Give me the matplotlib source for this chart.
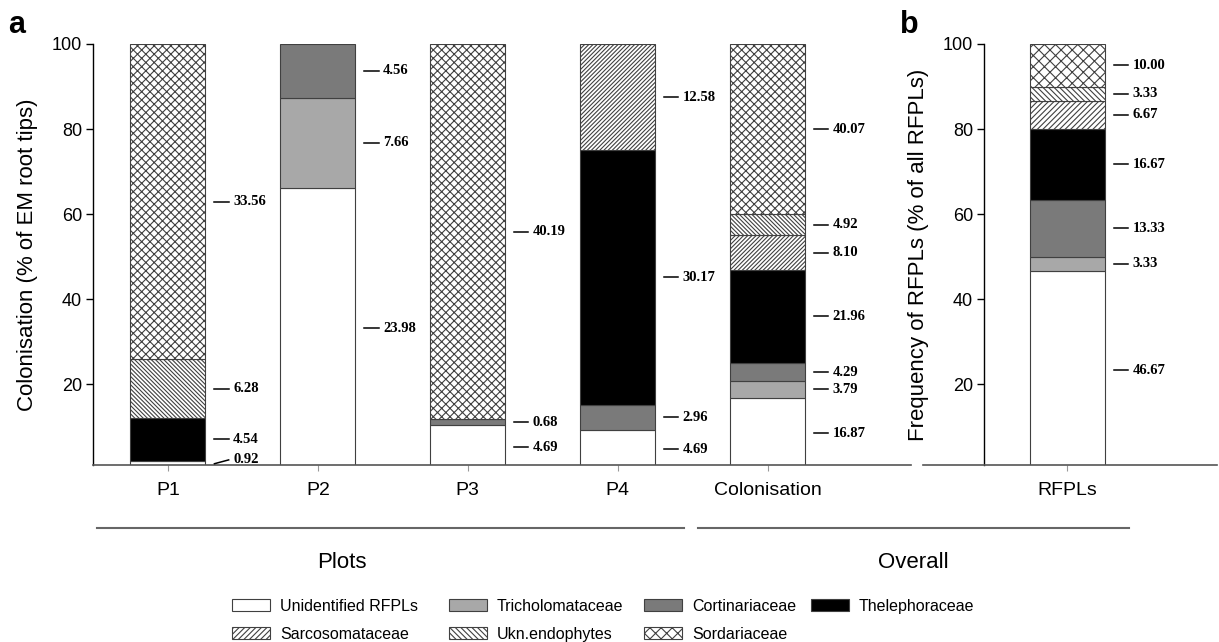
import numpy as np
import matplotlib
matplotlib.use("Agg")
import matplotlib.pyplot as plt
from matplotlib.lines import Line2D
from matplotlib.patches import Rectangle

plt.rcParams['font.family'] = ['Liberation Sans', 'DejaVu Sans']
plt.rcParams['hatch.linewidth'] = 0.8

# categories
plots = ['P1', 'P2', 'P3', 'P4', 'Colonisation']
families = ['Unidentified RFPLs', 'Tricholomataceae', 'Cortinariaceae', 'Thelephoraceae',
            'Sarcosomataceae', 'Ukn.endophytes', 'Sordariaceae']

# values printed next to the bars (panel a), one list per family across plots
unidentified = [0.92, 23.98, 4.69, 4.69, 16.87]
tricholomataceae = [0, 7.66, 0, 0, 3.79]
cortinariaceae = [0, 4.56, 0.68, 2.96, 4.29]
thelephoraceae = [4.54, 0, 0, 30.17, 21.96]
sarcosomataceae = [0, 0, 0, 12.58, 8.10]
ukn_endophytes = [6.28, 0, 0, 0, 4.92]
sordariaceae = [33.56, 0, 40.19, 0, 40.07]

# panel b
rfpl_cat = ['RFPLs']
rfpl_freq = [46.67, 3.33, 13.33, 16.67, 6.67, 3.33, 10.00]

# styles (same order as families)
fills = ['white', '#a8a8a8', '#7a7a7a', 'black', 'white', 'white', 'white']
hatches_a = [None, None, None, None, '////////', '\\' * 8, 'xxxx']
hatches_b = [None, None, None, None, '//////', '\\' * 6, 'xxx']

W, H = 1219, 642
fig = plt.figure(figsize=(W / 100, H / 100), dpi=100)

BW = 0.5


def stack(ax, x, vals, hatches):
    vals = np.array(vals, dtype=float)
    pct = vals / vals.sum() * 100
    bottom = 0
    for i, (v, p) in enumerate(zip(vals, pct)):
        if v == 0:
            continue
        ax.bar(x, p, BW, bottom=bottom, color=fills[i], hatch=hatches[i],
               edgecolor='#404040', linewidth=0.8, zorder=2)
        mid = bottom + p / 2
        y0 = max(mid, 1.3)
        y1 = max(mid, 2.2)
        xr = x + BW / 2
        ax.plot([xr + 0.06, xr + 0.155], [y0, y1], color='black', lw=1.1,
                clip_on=False, zorder=3)
        ax.text(xr + 0.185, y1, '%.2f' % v, fontsize=10.5, fontweight='bold',
                family='Liberation Serif', va='center', ha='left')
        bottom += p


def style(ax):
    ax.set_ylim(1, 100)
    ax.set_yticks([20, 40, 60, 80, 100])
    for s in ['top', 'right']:
        ax.spines[s].set_visible(False)
    ax.spines['bottom'].set_color('#555555')
    ax.spines['bottom'].set_linewidth(1.2)
    ax.spines['left'].set_linewidth(1.0)
    ax.tick_params(axis='y', length=5, width=1, labelsize=13, pad=3)
    ax.tick_params(axis='x', length=4, width=0.8, color='#999999', labelsize=14, pad=8)


# panel a
ax = fig.add_axes([93 / W, 1 - 465 / H, 818 / W, 421 / H])
data_a = np.array([unidentified, tricholomataceae, cortinariaceae, thelephoraceae,
                   sarcosomataceae, ukn_endophytes, sordariaceae])
for j in range(len(plots)):
    stack(ax, j, data_a[:, j], hatches_a)
ax.set_xlim(-0.5, 4.957)
ax.set_xticks(range(len(plots)))
ax.set_xticklabels(plots)
style(ax)
ax.set_ylabel('Colonisation (% of EM root tips)', fontsize=16, labelpad=10)

# panel b
axb = fig.add_axes([923 / W, 1 - 465 / H, 294 / W, 421 / H])
stack(axb, 0, rfpl_freq, hatches_b)
axb.set_xlim(-0.961, 1.0)
axb.set_xticks([0])
axb.set_xticklabels(rfpl_cat)
style(axb)
axb.spines['left'].set_position(('data', -0.554))
axb.set_ylabel('Frequency of RFPLs (% of all RFPLs)', fontsize=16, labelpad=10)

# panel letters
fig.text(8 / W, 1 - 33 / H, 'a', fontsize=22, fontweight='bold', va='baseline')
fig.text(900 / W, 1 - 33 / H, 'b', fontsize=22, fontweight='bold', va='baseline')

# group lines and labels
for x0, x1 in [(97, 684), (698, 1129)]:
    fig.add_artist(Line2D([x0 / W, x1 / W], [1 - 528 / H, 1 - 528 / H],
                          color='#666666', lw=1.5))
fig.text(342 / W, 1 - 563 / H, 'Plots', fontsize=16, ha='center', va='center')
fig.text(913 / W, 1 - 563 / H, 'Overall', fontsize=16, ha='center', va='center')

# legend
leg_x = [232, 449, 644, 811, 232, 449, 644]
leg_y = [605, 605, 605, 605, 633, 633, 633]
for i in range(len(families)):
    px, py = leg_x[i], leg_y[i]
    fig.add_artist(Rectangle((px / W, (H - py - 6) / H), 38 / W, 12 / H,
                             facecolor=fills[i], hatch=hatches_b[i], edgecolor='#404040',
                             linewidth=0.8, transform=fig.transFigure))
    fig.text((px + 48) / W, 1 - py / H, families[i], fontsize=11.5, va='center_baseline')

fig.savefig('out.png', dpi=100)
